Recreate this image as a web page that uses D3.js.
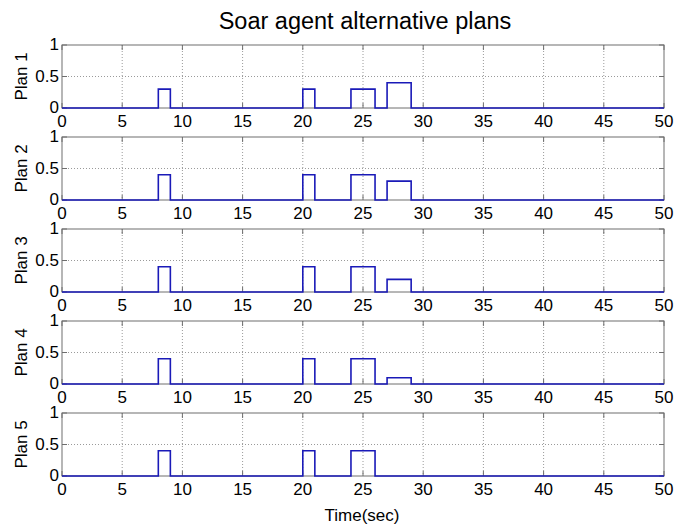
<!DOCTYPE html>
<html>
<head>
<meta charset="utf-8">
<script src="https://cdn.jsdelivr.net/npm/d3@7"></script>
<style>
  html, body { margin: 0; padding: 0; background: #fff; }
  svg { display: block; font-family: "Liberation Sans", Arial, sans-serif; }
</style>
</head>
<body>
<svg id="chart" width="688" height="527"></svg>
<script>
// ---- data ----
const planNames = ["Plan 1", "Plan 2", "Plan 3", "Plan 4", "Plan 5"];
const pulseStart = [8, 20, 24, 27];
const pulseEnd   = [9, 21, 26, 29];
const plan1 = [0.3, 0.3, 0.3, 0.4];
const plan2 = [0.4, 0.4, 0.4, 0.3];
const plan3 = [0.4, 0.4, 0.4, 0.2];
const plan4 = [0.4, 0.4, 0.4, 0.1];
const plan5 = [0.4, 0.4, 0.4, 0.0];
const xTicks = [0, 5, 10, 15, 20, 25, 30, 35, 40, 45, 50];
const yTicks = [0, 0.5, 1];
const yTickLabels = ["0", "0.5", "1"];
const titleText = "Soar agent alternative plans";
const xLabelText = "Time(sec)";
const tMin = 0, tMax = 50;

const plans = [plan1, plan2, plan3, plan4, plan5];

// ---- layout ----
const svg = d3.select("#chart");
const left = 62, right = 664;
const top0 = 45, plotH = 63, step = 92;
const x = d3.scaleLinear().domain([tMin, tMax]).range([left, right]);

const boxColor = "#6e6e6e";
const gridColor = "#9a9a9a";
const lineColor = "#1a1ab8";
const fs = 17;

svg.append("text")
  .attr("x", 365).attr("y", 29)
  .attr("text-anchor", "middle")
  .attr("font-size", 23.5)
  .attr("fill", "#000")
  .text(titleText);

plans.forEach((vals, i) => {
  const yTop = top0 + i * step;
  const y = d3.scaleLinear().domain([0, 1]).range([yTop + plotH, yTop]);
  const g = svg.append("g");

  g.append("rect").attr("x", left).attr("y", yTop)
    .attr("width", right - left).attr("height", plotH).attr("fill", "#fff");

  g.selectAll(".vg").data(xTicks.filter(t => t > tMin && t < tMax)).enter()
    .append("line")
    .attr("x1", d => x(d)).attr("x2", d => x(d))
    .attr("y1", yTop).attr("y2", yTop + plotH)
    .attr("stroke", gridColor).attr("stroke-width", 1)
    .attr("stroke-dasharray", "1,2");
  g.selectAll(".hg").data(yTicks.filter(t => t > 0 && t < 1)).enter()
    .append("line")
    .attr("x1", left).attr("x2", right)
    .attr("y1", d => y(d)).attr("y2", d => y(d))
    .attr("stroke", gridColor).attr("stroke-width", 1)
    .attr("stroke-dasharray", "1,2");

  g.append("rect").attr("x", left).attr("y", yTop)
    .attr("width", right - left).attr("height", plotH)
    .attr("fill", "none").attr("stroke", boxColor).attr("stroke-width", 1);

  xTicks.forEach(t => {
    g.append("line").attr("x1", x(t)).attr("x2", x(t))
      .attr("y1", yTop + plotH).attr("y2", yTop + plotH - 5)
      .attr("stroke", boxColor);
    g.append("line").attr("x1", x(t)).attr("x2", x(t))
      .attr("y1", yTop).attr("y2", yTop + 5)
      .attr("stroke", boxColor);
  });
  yTicks.forEach(t => {
    g.append("line").attr("x1", left).attr("x2", left + 5)
      .attr("y1", y(t)).attr("y2", y(t)).attr("stroke", boxColor);
    g.append("line").attr("x1", right).attr("x2", right - 5)
      .attr("y1", y(t)).attr("y2", y(t)).attr("stroke", boxColor);
  });

  g.selectAll(".xl").data(xTicks).enter().append("text")
    .attr("x", d => x(d)).attr("y", yTop + plotH + 19)
    .attr("text-anchor", "middle").attr("font-size", fs)
    .attr("fill", "#000").text(d => d);
  g.selectAll(".yl").data(yTicks).enter().append("text")
    .attr("x", left - 3).attr("y", d => y(d) + 5)
    .attr("text-anchor", "end").attr("font-size", fs)
    .attr("fill", "#000").text((d, k) => yTickLabels[k]);

  g.append("text")
    .attr("transform", `translate(27,${yTop + plotH / 2}) rotate(-90)`)
    .attr("text-anchor", "middle").attr("font-size", fs)
    .attr("fill", "#000").text(planNames[i]);

  const pts = [[tMin, 0]];
  vals.forEach((v, k) => {
    pts.push([pulseStart[k], 0], [pulseStart[k], v], [pulseEnd[k], v], [pulseEnd[k], 0]);
  });
  pts.push([tMax, 0]);
  const line = d3.line().x(d => x(d[0])).y(d => y(d[1]));
  g.append("path").attr("d", line(pts))
    .attr("fill", "none").attr("stroke", lineColor).attr("stroke-width", 1.6);
});

svg.append("text")
  .attr("x", 362).attr("y", 521)
  .attr("text-anchor", "middle").attr("font-size", fs)
  .attr("fill", "#000").text(xLabelText);
</script>
</body>
</html>
